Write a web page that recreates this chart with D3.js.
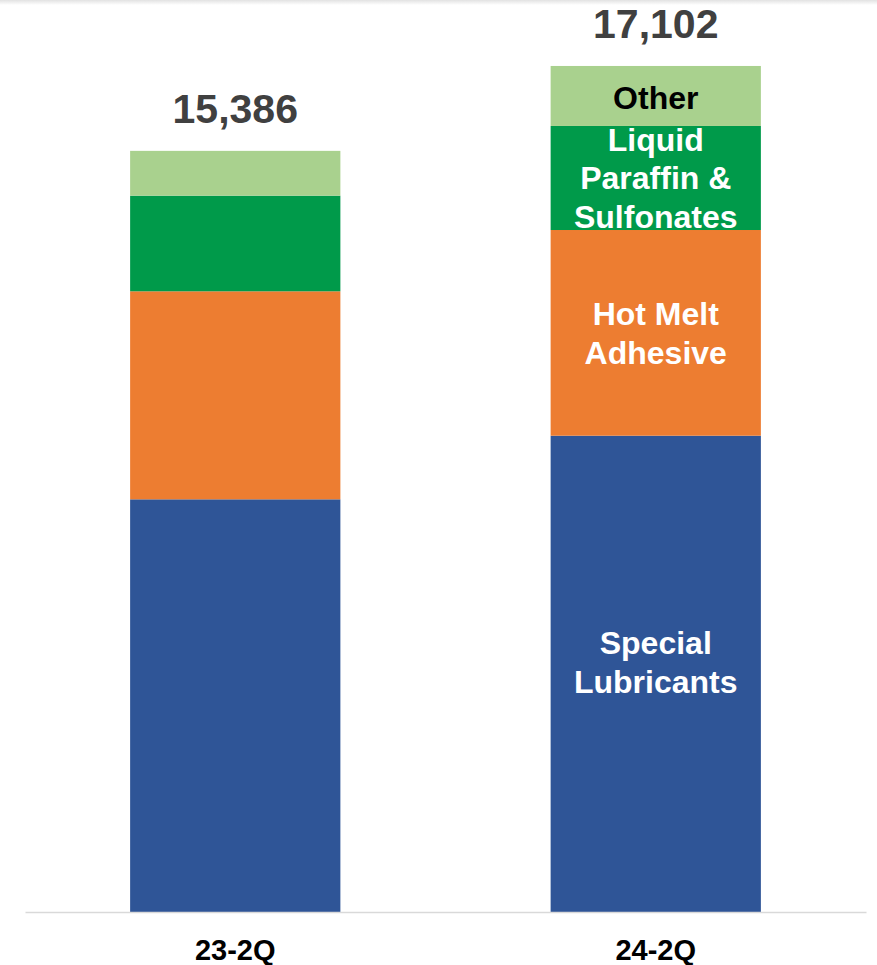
<!DOCTYPE html>
<html>
<head>
<meta charset="utf-8">
<script src="https://cdn.jsdelivr.net/npm/d3@7/dist/d3.min.js"></script>
<style>
  html, body { margin: 0; padding: 0; background: #ffffff; }
  svg { display: block; }
  text { font-family: "Liberation Sans", Arial, Helvetica, sans-serif; font-weight: bold; }
</style>
</head>
<body>
<svg id="chart" width="877" height="965"></svg>
<script>
// Quarterly sales by product group
const categories = ["23-2Q", "24-2Q"];
const seriesNames = ["Special Lubricants", "Hot Melt Adhesive", "Liquid Paraffin & Sulfonates", "Other"];
const specialLubricants = [8342, 9628];
const hotMeltAdhesive = [4205, 4158];
const liquidParaffin = [1933, 2103];
const other = [906, 1213];
const totals = [15386, 17102];
const totalLabels = ["15,386", "17,102"];
// Multi-line segment captions shown inside the 24-2Q column
const segmentLabelLines = [
  ["Special", "Lubricants"],
  ["Hot Melt", "Adhesive"],
  ["Liquid", "Paraffin &", "Sulfonates"],
  ["Other"]
];
const seriesColors = ["#2F5597", "#ED7D31", "#009A4A", "#A9D18E"];
const labelColors = ["#ffffff", "#ffffff", "#ffffff", "#000000"];

const svg = d3.select("#chart");
const W = 877, H = 965;
const baseY = 912;

// thin grey shade along the top edge
const defs = svg.append("defs");
const grad = defs.append("linearGradient").attr("id", "topShade")
  .attr("x1", 0).attr("y1", 0).attr("x2", 0).attr("y2", 1);
grad.append("stop").attr("offset", "0%").attr("stop-color", "#e2e2e2");
grad.append("stop").attr("offset", "100%").attr("stop-color", "#ffffff");
svg.append("rect").attr("x", 0).attr("y", 0).attr("width", W).attr("height", 5)
  .attr("fill", "url(#topShade)");

const x = d3.scaleBand()
  .domain(categories)
  .range([25, 866])
  .paddingInner(0.5)
  .paddingOuter(0.25);

const y = d3.scaleLinear()
  .domain([0, 18000])
  .range([baseY, baseY - 18000 * 0.04947]);

const rows = categories.map((c, i) => ({
  category: c,
  "Special Lubricants": specialLubricants[i],
  "Hot Melt Adhesive": hotMeltAdhesive[i],
  "Liquid Paraffin & Sulfonates": liquidParaffin[i],
  "Other": other[i]
}));

const stacked = d3.stack().keys(seriesNames)(rows);

const layers = svg.append("g").selectAll("g")
  .data(stacked)
  .join("g")
  .attr("fill", (d, i) => seriesColors[i]);

layers.selectAll("rect")
  .data(d => d)
  .join("rect")
  .attr("x", d => x(d.data.category))
  .attr("width", x.bandwidth())
  .attr("y", d => y(d[1]))
  .attr("height", d => y(d[0]) - y(d[1]));

// category axis
const axis = d3.axisBottom(x).tickSize(0).tickPadding(0);
const axisG = svg.append("g")
  .attr("transform", `translate(0,${baseY})`)
  .call(axis);
axisG.select(".domain").attr("stroke", "#D9D9D9").attr("stroke-width", 1.5);
axisG.selectAll(".tick text")
  .attr("y", 48)
  .attr("dy", null)
  .attr("fill", "#000000")
  .attr("font-size", 29)
  .attr("font-weight", "bold")
  .attr("font-family", '"Liberation Sans", Arial, sans-serif');

// totals above each column
svg.append("g").selectAll("text")
  .data(categories)
  .join("text")
  .attr("x", d => x(d) + x.bandwidth() / 2)
  .attr("y", (d, i) => y(totals[i]) - 28)
  .attr("text-anchor", "middle")
  .attr("font-size", 41)
  .attr("fill", "#404040")
  .text((d, i) => totalLabels[i]);

// segment captions in the latest column
const fontSize = 32;
const lineH = 38.5;
const capHalf = fontSize * 0.716 / 2;
const labelShift = [-12, 0, 0, 2];
const lastIdx = categories.length - 1;
const labelG = svg.append("g");
stacked.forEach((layer, si) => {
  const seg = layer[lastIdx];
  const cx = x(categories[lastIdx]) + x.bandwidth() / 2;
  const cy = (y(seg[0]) + y(seg[1])) / 2 + labelShift[si];
  const lines = segmentLabelLines[si];
  lines.forEach((ln, li) => {
    labelG.append("text")
      .attr("x", cx)
      .attr("y", cy + (li - (lines.length - 1) / 2) * lineH + capHalf)
      .attr("text-anchor", "middle")
      .attr("font-size", fontSize)
      .attr("fill", labelColors[si])
      .text(ln);
  });
});
</script>
</body>
</html>
